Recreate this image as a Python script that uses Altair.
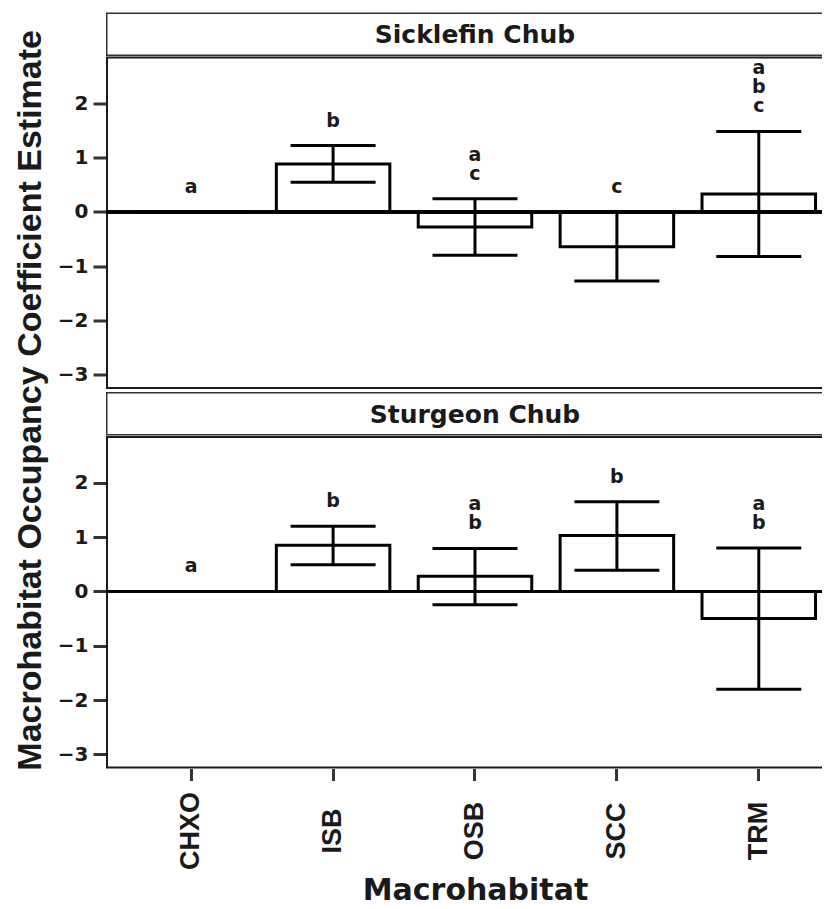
import altair as alt
import pandas as pd

# ---- data ----
habitats = ["CHXO", "ISB", "OSB", "SCC", "TRM"]
species = ["Sicklefin Chub", "Sturgeon Chub"]

sick_est = [0.0, 0.88, -0.28, -0.64, 0.33]
sick_lo = [0.0, 0.545, -0.80, -1.27, -0.82]
sick_hi = [0.0, 1.22, 0.24, 0.0, 1.48]
sick_letters = ["a", "b", "a\nc", "c", "a\nb\nc"]

stur_est = [0.0, 0.85, 0.28, 1.03, -0.50]
stur_lo = [0.0, 0.49, -0.245, 0.39, -1.80]
stur_hi = [0.0, 1.20, 0.79, 1.65, 0.80]
stur_letters = ["a", "b", "a\nb", "b", "a\nb"]

y_ticks = [-3, -2, -1, 0, 1, 2]
y_domain = [-3.26, 2.86]

y_title = "Macrohabitat Occupancy Coefficient Estimate"
x_title = "Macrohabitat"

# ---- styling ----
HFONT = "DejaVu Sans"
RFONT = "Liberation Sans"
TXT = "#1a1a1a"
VIEW_W = 716          # visible part of each panel (the reference is cropped at the right)
MID_X = 369           # centre of the full (uncropped) panel
STRIP_H = 43.5
PANEL_H = 332.5
GAP_IN = 0
GAP_OUT = 2.5
TOTAL_H = 2 * (STRIP_H + GAP_IN + PANEL_H) + GAP_OUT
LINE_H = 19
ONE = pd.DataFrame({"f": [0]})


def frame(h, color, width):
    # open-ended box (left, top, bottom sides): the reference is cut at the right
    base = alt.Chart(ONE)
    kw = dict(color=color, strokeWidth=width)
    top = base.mark_rule(**kw).encode(
        x=alt.value(0), x2=alt.value(VIEW_W), y=alt.value(width / 2))
    bottom = base.mark_rule(**kw).encode(
        x=alt.value(0), x2=alt.value(VIEW_W), y=alt.value(h - width / 2))
    left = base.mark_rule(**kw).encode(
        x=alt.value(width / 2), y=alt.value(width / 2), y2=alt.value(h - width / 2))
    return [top, bottom, left]


def panel(est, lo, hi, letters, show_x):
    df = pd.DataFrame({"hab": habitats, "est": est, "lo": lo, "hi": hi})
    rows = []
    for h, top, s in zip(habitats, hi, letters):
        parts = s.split("\n")
        n = len(parts)
        for i, p in enumerate(parts):
            rows.append({"hab": h, "hi": top, "lab": p, "k": n - 1 - i})
    ldf = pd.DataFrame(rows)

    # band layout of the uncropped panel (step ~142 px, first centre ~85 px)
    xscale = alt.Scale(domain=habitats, paddingInner=0.2, paddingOuter=0.123, align=0.815)
    if show_x:
        xaxis = alt.Axis(
            title=x_title, labelAngle=270, labelAlign="center", labelBaseline="middle",
            labelFont=RFONT, labelFontSize=27, labelFontWeight="bold", labelColor=TXT,
            labelPadding=50, tickSize=12, tickWidth=3, tickColor="#333", domain=False,
            titleFont=HFONT, titleFontSize=30, titleFontWeight="bold", titleColor=TXT,
            titlePadding=6, titleX=MID_X,
        )
    else:
        xaxis = None
    x = alt.X("hab:N", scale=xscale, axis=xaxis, sort=habitats)
    yscale = alt.Scale(domain=y_domain, nice=False, zero=False)
    yaxis = alt.Axis(
        title=None, values=y_ticks, format="d", labelFont=HFONT, labelFontSize=20,
        labelFontWeight="bold", labelColor=TXT, labelPadding=5, tickSize=13,
        tickWidth=3, tickColor="#333", domain=False, grid=False,
    )

    base = alt.Chart(df)
    bars = base.mark_bar(fill="white", stroke="black", strokeWidth=3).encode(
        x=x, y=alt.Y("est:Q", scale=yscale, axis=yaxis), y2=alt.datum(0)
    )
    err = base.mark_rule(color="black", strokeWidth=3).encode(
        x=x, y=alt.Y("lo:Q", scale=yscale, axis=yaxis), y2="hi:Q"
    )
    lo_t = base.mark_tick(color="black", opacity=1, thickness=3, size=85,
                          orient="horizontal").encode(
        x=x, y=alt.Y("lo:Q", scale=yscale, axis=yaxis)
    )
    hi_t = base.mark_tick(color="black", opacity=1, thickness=3, size=85,
                          orient="horizontal").encode(
        x=x, y=alt.Y("hi:Q", scale=yscale, axis=yaxis)
    )
    zero = base.mark_rule(color="black", strokeWidth=3).encode(
        y=alt.YDatum(0, scale=yscale, axis=yaxis)
    )
    layers = [bars] + frame(PANEL_H, "#1a1a1a", 2) + [err, lo_t, hi_t, zero]
    for j in range(3):
        layers.append(
            alt.Chart(ldf).transform_filter(alt.datum.k == j).mark_text(
                font=HFONT, fontSize=19, fontWeight="bold", color=TXT,
                baseline="bottom", dy=-15 - LINE_H * j,
            ).encode(x=x, y=alt.Y("hi:Q", scale=yscale, axis=yaxis), text="lab:N")
        )
    return alt.layer(*layers).properties(width=VIEW_W, height=PANEL_H)


def strip(name):
    df = pd.DataFrame({"sp": [name]})
    txt = alt.Chart(df).mark_text(
        font=HFONT, fontSize=25, fontWeight="bold", color=TXT, baseline="middle"
    ).encode(
        x=alt.value(MID_X), y=alt.value(STRIP_H / 2 + 1), text="sp:N"
    )
    return alt.layer(*frame(STRIP_H, "#333", 1.5), txt).properties(
        width=VIEW_W, height=STRIP_H
    )


# y title: anchored at its top end so that it never reaches above the panels
ylab = alt.Chart(pd.DataFrame({"t": [y_title]})).mark_text(
    font=RFONT, fontSize=34, fontWeight="bold", color=TXT, angle=270,
    align="right", baseline="middle",
).encode(
    x=alt.value(12), y=alt.value(17.5), text="t:N"
).properties(width=30, height=TOTAL_H)

top = alt.vconcat(
    strip(species[0]),
    panel(sick_est, sick_lo, sick_hi, sick_letters, False),
    spacing=GAP_IN,
)
bot = alt.vconcat(
    strip(species[1]),
    panel(stur_est, stur_lo, stur_hi, stur_letters, True),
    spacing=GAP_IN,
)
right = alt.vconcat(top, bot, spacing=GAP_OUT)

chart = alt.hconcat(ylab, right, spacing=8).properties(
    padding={"left": 6, "top": 4.5, "right": 0, "bottom": 0},
    background="white",
).configure_view(stroke=None)

chart.save("out.html", embed_options={"renderer": "svg", "actions": False})
